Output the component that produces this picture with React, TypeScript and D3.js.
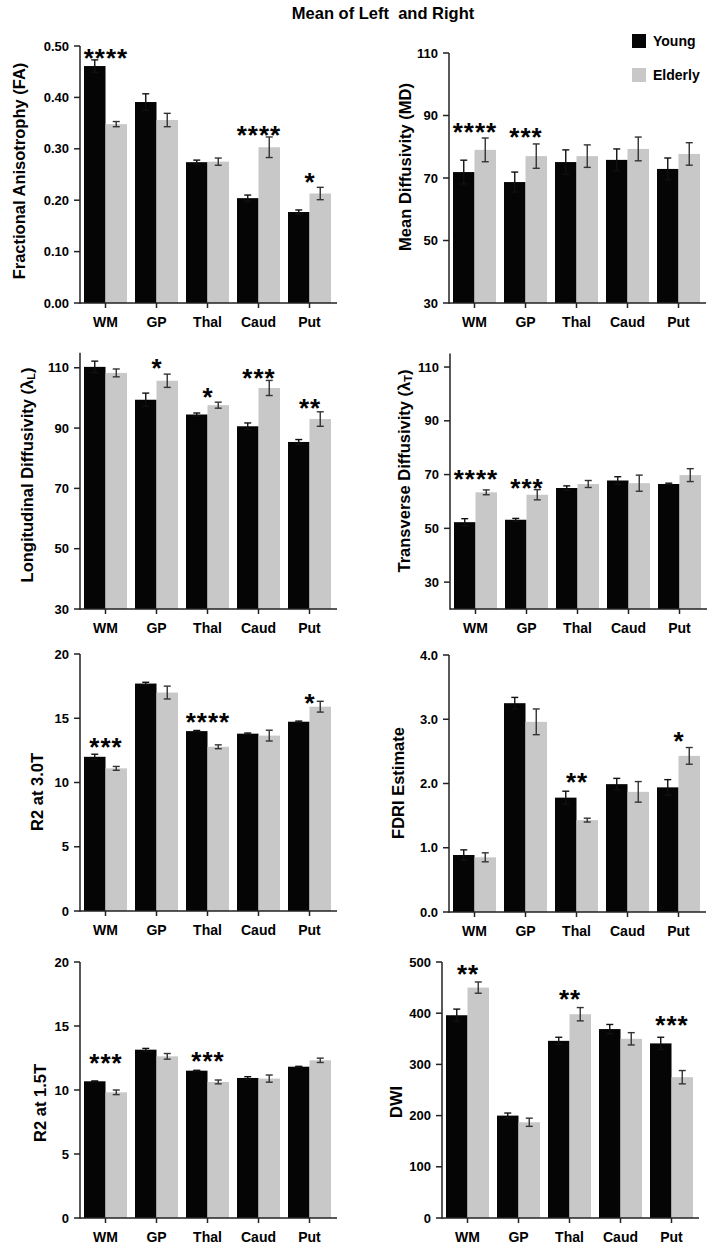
import React from 'react';
import * as d3 from 'd3';

const categories = ['WM', 'GP', 'Thal', 'Caud', 'Put'];
const seriesNames = ['Young', 'Elderly'];

const faYoung = [0.461, 0.391, 0.274, 0.204, 0.177];
const faYoungErr = [0.012, 0.016, 0.004, 0.006, 0.004];
const faElderly = [0.348, 0.356, 0.275, 0.303, 0.213];
const faElderlyErr = [0.005, 0.013, 0.007, 0.02, 0.012];
const faSig = ['****', '', '', '****', '*'];
const faSigLevel = [0.486, 0, 0, 0.337, 0.245];
const faTicks = [0, 0.1, 0.2, 0.3, 0.4, 0.5];

const mdYoung = [71.9, 68.7, 75.1, 75.8, 72.9];
const mdYoungErr = [3.8, 3.2, 3.9, 3.5, 3.5];
const mdElderly = [79.0, 77.0, 77.0, 79.3, 77.7];
const mdElderlyErr = [3.8, 3.9, 3.6, 3.8, 3.6];
const mdSig = ['****', '***', '', '', ''];
const mdSigLevel = [86.3, 84.7, 0, 0, 0];
const mdTicks = [30, 50, 70, 90, 110];

const ldYoung = [110.3, 99.4, 94.5, 90.6, 85.4];
const ldYoungErr = [1.9, 2.2, 0.5, 1.1, 0.8];
const ldElderly = [108.3, 105.7, 97.6, 103.3, 93.0];
const ldElderlyErr = [1.3, 2.2, 1.0, 2.5, 2.4];
const ldSig = ['', '*', '*', '***', '**'];
const ldSigLevel = [0, 111.6, 102.0, 108.3, 98.3];
const ldTicks = [30, 50, 70, 90, 110];

const tdYoung = [52.3, 53.2, 65.0, 67.8, 66.5];
const tdYoungErr = [1.3, 0.5, 0.8, 1.4, 0.3];
const tdElderly = [63.4, 62.5, 66.5, 66.8, 69.8];
const tdElderlyErr = [0.9, 1.9, 1.3, 3.0, 2.4];
const tdSig = ['****', '***', '', '', ''];
const tdSigLevel = [70.2, 66.8, 0, 0, 0];
const tdTicks = [30, 50, 70, 90, 110];

const r30Young = [12.0, 17.7, 14.0, 13.8, 14.73];
const r30YoungErr = [0.2, 0.1, 0.05, 0.05, 0.05];
const r30Elderly = [11.1, 17.0, 12.78, 13.65, 15.9];
const r30ElderlyErr = [0.15, 0.5, 0.15, 0.42, 0.42];
const r30Sig = ['***', '', '****', '', '*'];
const r30SigLevel = [13.17, 0, 15.1, 0, 16.6];
const r30Ticks = [0, 5, 10, 15, 20];

const fdYoung = [0.887, 3.25, 1.78, 1.99, 1.94];
const fdYoungErr = [0.08, 0.09, 0.1, 0.09, 0.12];
const fdElderly = [0.851, 2.96, 1.43, 1.87, 2.43];
const fdElderlyErr = [0.07, 0.2, 0.03, 0.16, 0.13];
const fdSig = ['', '', '**', '', '*'];
const fdSigLevel = [0, 0, 2.1, 0, 2.74];
const fdTicks = [0, 1, 2, 3, 4];

const r15Young = [10.68, 13.15, 11.51, 10.94, 11.82];
const r15YoungErr = [0.03, 0.1, 0.03, 0.1, 0.03];
const r15Elderly = [9.82, 12.63, 10.63, 10.89, 12.32];
const r15ElderlyErr = [0.18, 0.22, 0.15, 0.28, 0.17];
const r15Sig = ['***', '', '***', '', ''];
const r15SigLevel = [12.5, 0, 12.68, 0, 0];
const r15Ticks = [0, 5, 10, 15, 20];

const dwiYoung = [396, 200, 346, 369, 341];
const dwiYoungErr = [12, 5, 7, 9, 12];
const dwiElderly = [450, 187, 398, 350, 275];
const dwiElderlyErr = [11, 8, 13, 12, 13];
const dwiSig = ['**', '', '**', '', '***'];
const dwiSigLevel = [486, 0, 437.5, 0, 387];
const dwiTicks = [0, 100, 200, 300, 400, 500];

const FONT = '"Liberation Sans", Arial, Helvetica, sans-serif';
const GRAY = '#c8c8c8';
const BLACK = '#050505';
const AXIS = '#222';

type Panel = {
  label: React.ReactNode;
  axisX: number;
  range: [number, number];
  domain: [number, number];
  ticks: number[];
  fmt: (v: number) => string;
  young: number[]; youngErr: number[];
  elderly: number[]; elderlyErr: number[];
  sig: string[]; sigLevel: number[];
  labelPos: [number, number];
};

const panels: Panel[] = [
  { label: 'Fractional Anisotrophy (FA)', axisX: 80, range: [303, 46], domain: [0, 0.5], ticks: faTicks, fmt: d3.format('.2f'),
    young: faYoung, youngErr: faYoungErr, elderly: faElderly, elderlyErr: faElderlyErr, sig: faSig, sigLevel: faSigLevel, labelPos: [19, 171] },
  { label: 'Mean Diffusivity (MD)', axisX: 449, range: [303, 53], domain: [30, 110], ticks: mdTicks, fmt: d3.format('d'),
    young: mdYoung, youngErr: mdYoungErr, elderly: mdElderly, elderlyErr: mdElderlyErr, sig: mdSig, sigLevel: mdSigLevel, labelPos: [405, 167] },
  { label: 'LD', axisX: 80, range: [609, 352.7], domain: [30, 115], ticks: ldTicks, fmt: d3.format('d'),
    young: ldYoung, youngErr: ldYoungErr, elderly: ldElderly, elderlyErr: ldElderlyErr, sig: ldSig, sigLevel: ldSigLevel, labelPos: [27, 475] },
  { label: 'TD', axisX: 450, range: [609, 353.6], domain: [20, 115], ticks: tdTicks, fmt: d3.format('d'),
    young: tdYoung, youngErr: tdYoungErr, elderly: tdElderly, elderlyErr: tdElderlyErr, sig: tdSig, sigLevel: tdSigLevel, labelPos: [404, 471] },
  { label: 'R2 at 3.0T', axisX: 80, range: [911, 654], domain: [0, 20], ticks: r30Ticks, fmt: d3.format('d'),
    young: r30Young, youngErr: r30YoungErr, elderly: r30Elderly, elderlyErr: r30ElderlyErr, sig: r30Sig, sigLevel: r30SigLevel, labelPos: [37, 792] },
  { label: 'FDRI Estimate', axisX: 449, range: [912, 655], domain: [0, 4], ticks: fdTicks, fmt: d3.format('.1f'),
    young: fdYoung, youngErr: fdYoungErr, elderly: fdElderly, elderlyErr: fdElderlyErr, sig: fdSig, sigLevel: fdSigLevel, labelPos: [398, 783] },
  { label: 'R2 at 1.5T', axisX: 80, range: [1218, 962], domain: [0, 20], ticks: r15Ticks, fmt: d3.format('d'),
    young: r15Young, youngErr: r15YoungErr, elderly: r15Elderly, elderlyErr: r15ElderlyErr, sig: r15Sig, sigLevel: r15SigLevel, labelPos: [40, 1103] },
  { label: 'DWI', axisX: 442, range: [1218, 962], domain: [0, 500], ticks: dwiTicks, fmt: d3.format('d'),
    young: dwiYoung, youngErr: dwiYoungErr, elderly: dwiElderly, elderlyErr: dwiElderlyErr, sig: dwiSig, sigLevel: dwiSigLevel, labelPos: [396, 1102] },
];

function YLabel({ p }: { p: Panel }) {
  const [cx, cy] = p.labelPos;
  let content: React.ReactNode = p.label;
  if (p.label === 'LD' || p.label === 'TD') {
    const main = p.label === 'LD' ? 'Longitudinal Diffusivity (λ' : 'Transverse Diffusivity (λ';
    const sub = p.label === 'LD' ? 'L' : 'T';
    content = (
      <>
        {main}
        <tspan fontSize={11} dy={4}>{sub}</tspan>
        <tspan dy={-4}>)</tspan>
      </>
    );
  }
  return (
    <text transform={`translate(${cx},${cy}) rotate(-90)`} textAnchor="middle" dominantBaseline="central"
      fontFamily={FONT} fontWeight="bold" fontSize={16.5} fill="#000">
      {content}
    </text>
  );
}

function PanelChart({ p }: { p: Panel }) {
  const y = d3.scaleLinear().domain(p.domain).range(p.range);
  const x = d3.scaleBand<string>().domain(categories).range([p.axisX + 4, p.axisX + 4 + 247]).paddingInner(8 / 51).paddingOuter(0);
  const xs = d3.scaleBand<string>().domain(seriesNames).range([0, x.bandwidth()]).padding(0);
  const y0 = p.range[0];
  const yTop = y(p.domain[1]);
  const xEnd = p.axisX + 257;
  const cap = 3.5;
  const vals = [p.young, p.elderly];
  const errs = [p.youngErr, p.elderlyErr];
  const colors = [BLACK, GRAY];
  return (
    <g>
      {categories.map((c, i) => (
        <g key={c}>
          {seriesNames.map((s, si) => {
            const v = vals[si][i];
            const bx = (x(c) as number) + (xs(s) as number);
            const bw = xs.bandwidth();
            return (
              <rect key={s} x={bx} y={y(v)} width={bw} height={y0 - y(v)} fill={colors[si]} />
            );
          })}
        </g>
      ))}
      {categories.map((c, i) => (
        <g key={'e' + c}>
          {seriesNames.map((s, si) => {
            const v = vals[si][i];
            const e = errs[si][i];
            const cx = (x(c) as number) + (xs(s) as number) + xs.bandwidth() / 2;
            const yHi = y(v + e);
            const yLo = y(v - e);
            const col = si === 0 ? '#111' : '#333';
            return (
              <g key={s} stroke={col} strokeWidth={1.4}>
                <line x1={cx} x2={cx} y1={yHi} y2={yLo} />
                <line x1={cx - cap} x2={cx + cap} y1={yHi} y2={yHi} />
                <line x1={cx - cap} x2={cx + cap} y1={yLo} y2={yLo} />
              </g>
            );
          })}
        </g>
      ))}
      {categories.map((c, i) =>
        p.sig[i] ? (
          <text key={'s' + c} x={(x(c) as number) + x.bandwidth() / 2 + 0.5} y={y(p.sigLevel[i]) + 14}
            textAnchor="middle" fontFamily={FONT} fontWeight="bold" fontSize={26} letterSpacing={1} fill="#000">
            {p.sig[i]}
          </text>
        ) : null
      )}
      <line x1={p.axisX} x2={p.axisX} y1={yTop} y2={y0 + 0.75} stroke={AXIS} strokeWidth={1.5} />
      {p.ticks.map((t) => (
        <g key={'t' + t}>
          <line x1={p.axisX - 6} x2={p.axisX} y1={y(t)} y2={y(t)} stroke={AXIS} strokeWidth={1.5} />
          <text x={p.axisX - 11} y={y(t)} textAnchor="end" dominantBaseline="central" fontFamily={FONT}
            fontWeight="bold" fontSize={13} fill="#000">
            {p.fmt(t)}
          </text>
        </g>
      ))}
      <line x1={p.axisX} x2={xEnd} y1={y0} y2={y0} stroke={AXIS} strokeWidth={1.5} />
      {categories.map((c) => {
        const cx = (x(c) as number) + x.bandwidth() / 2;
        return (
          <g key={'x' + c}>
            <line x1={cx} x2={cx} y1={y0} y2={y0 + 5} stroke={AXIS} strokeWidth={1.5} />
            <text x={cx} y={y0 + 24} textAnchor="middle" fontFamily={FONT} fontWeight="bold" fontSize={14} fill="#000">
              {c}
            </text>
          </g>
        );
      })}
      <YLabel p={p} />
    </g>
  );
}

export default function App() {
  const W = 724;
  const H = 1253;
  return (
    <svg width={W} height={H} viewBox={`0 0 ${W} ${H}`} style={{ position: 'absolute', left: 0, top: 0, background: '#fff' }}>
      <rect x={0} y={0} width={W} height={H} fill="#fff" />
      <text x={383} y={19} textAnchor="middle" fontFamily={FONT} fontWeight="bold" fontSize={16.5} fill="#000"
        style={{ whiteSpace: 'pre' }}>
        {'Mean of Left  and Right'}
      </text>
      {panels.map((p, i) => (
        <PanelChart key={i} p={p} />
      ))}
      {seriesNames.map((s, i) => (
        <g key={s}>
          <rect x={632} y={34 + i * 34} width={14} height={14} fill={i === 0 ? BLACK : GRAY} />
          <text x={653} y={41 + i * 34} dominantBaseline="central" fontFamily={FONT} fontWeight="bold" fontSize={14} fill="#000">
            {s}
          </text>
        </g>
      ))}
    </svg>
  );
}
